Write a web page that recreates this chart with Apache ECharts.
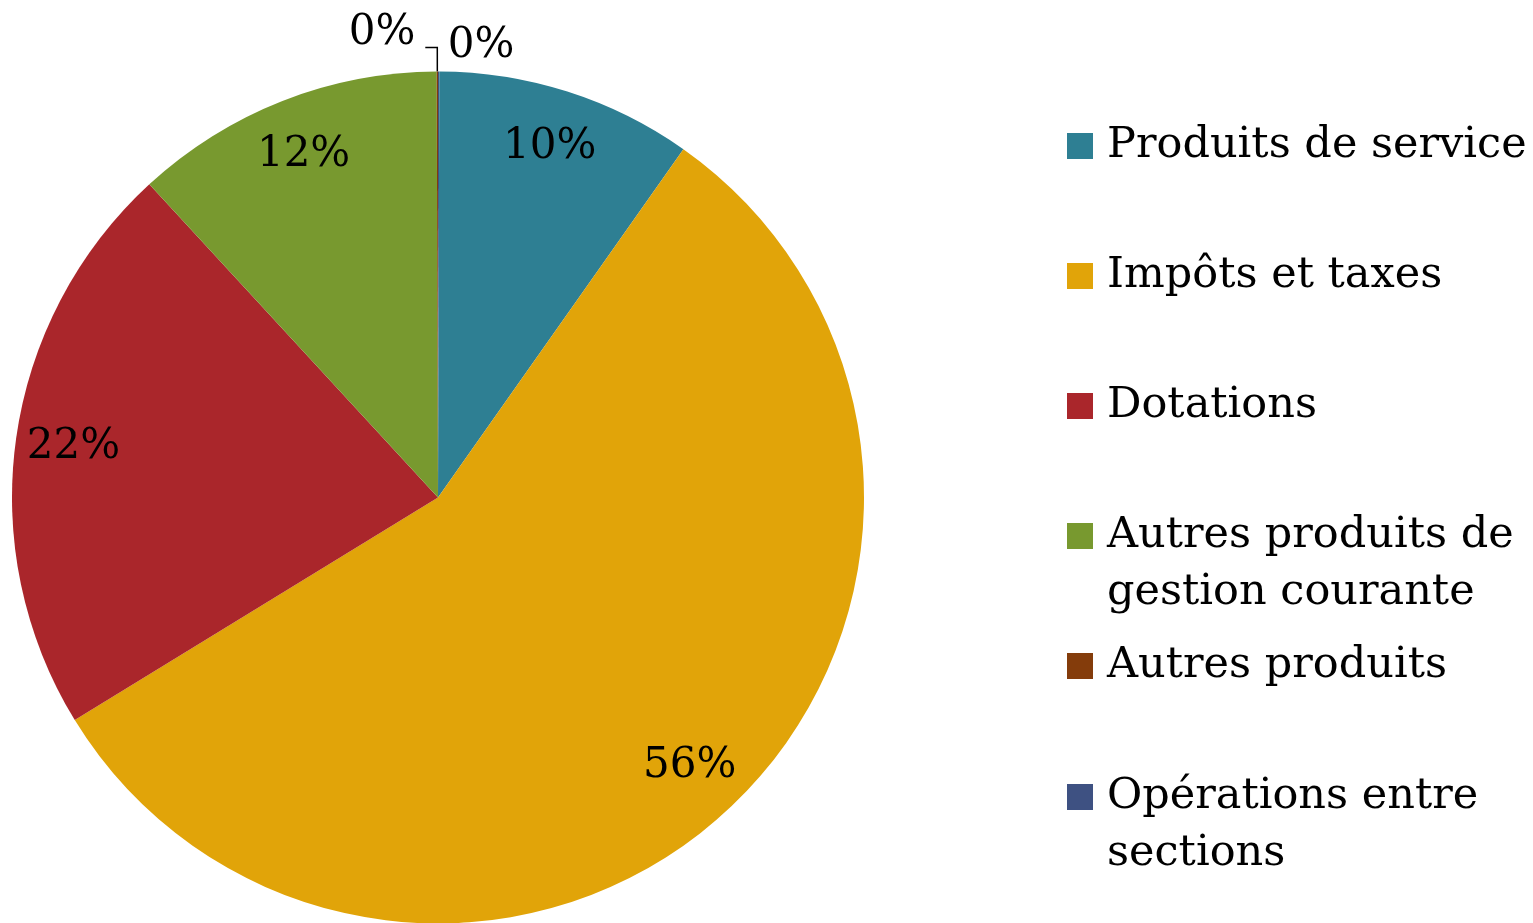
<!DOCTYPE html>
<html>
<head>
<meta charset="utf-8">
<script src="https://cdn.jsdelivr.net/npm/echarts@6/dist/echarts.min.js"></script>
<style>
html,body{margin:0;padding:0;background:#fff;}
#chart{width:1533px;height:923px;}
</style>
</head>
<body>
<div id="chart"></div>
<script>
const categories = ['Produits de service','Impôts et taxes','Dotations','Autres produits de gestion courante','Autres produits','Opérations entre sections'];
const legendLabels = ['Produits de service','Impôts et taxes','Dotations','Autres produits de\ngestion courante','Autres produits','Opérations entre\nsections'];
const values = [9.72, 56.48, 21.9, 11.8, 0.05, 0.05];
const colors = ['#2E7F93','#E1A409','#AA262B','#78992F','#843C0B','#3E5182'];
const legendCenters = [145, 275, 405, 535, 665, 796];

const FONT = "'DejaVu Serif', serif";
const drawOrder = [5, 0, 1, 2, 3, 4];
const pct = p => Math.round(p.percent) + '%';

const mainData = drawOrder.map(i => {
  const d = { name: categories[i], value: values[i], itemStyle: { color: colors[i] } };
  if (i === 5) {
    d.label = { show: true, position: 'outside', formatter: pct, distanceToLabelLine: 5 };
    d.labelLine = { show: false, length: 25, length2: 4 };
  } else if (i === 4) {
    d.label = { show: true, position: 'outside', formatter: p => pct(p) + '\n', lineHeight: 28, distanceToLabelLine: 10 };
    d.labelLine = { show: true, length: 24, length2: 12, lineStyle: { color: '#000', width: 1.5 } };
  } else {
    d.label = { show: false };
    d.labelLine = { show: false };
  }
  return d;
});

const labelData = drawOrder.map(i => ({
  name: categories[i], value: values[i],
  itemStyle: { color: 'rgba(0,0,0,0)' },
  label: { show: values[i] >= 1 }
}));

const legends = categories.map((name, i) => {
  const two = legendLabels[i].indexOf('\n') >= 0;
  return {
    data: [name],
    orient: 'vertical',
    left: 1067,
    top: legendCenters[i] - (two ? 85.5 : 28.5) + 1,
    padding: 0,
    itemWidth: 26,
    itemHeight: 26,
    selectedMode: false,
    icon: 'rect',
    formatter: () => (two ? '\n' : '') + legendLabels[i],
    textStyle: { fontFamily: FONT, fontSize: 43, color: '#000', lineHeight: 57, padding: [0, 0, 0, 9] }
  };
});

const chart = echarts.init(document.getElementById('chart'));
chart.setOption({
  animation: false,
  backgroundColor: '#fff',
  color: colors,
  legend: legends,
  series: [
    {
      type: 'pie',
      center: [438, 497.5],
      radius: [0, 426],
      startAngle: 90,
      clockwise: true,
      silent: true,
      avoidLabelOverlap: false,
      label: { fontFamily: FONT, fontSize: 42, color: '#000' },
      data: mainData
    },
    {
      type: 'pie',
      center: [438, 497.5],
      radius: [304, 426],
      startAngle: 90,
      clockwise: true,
      silent: true,
      avoidLabelOverlap: false,
      label: { show: true, position: 'inside', formatter: pct, fontFamily: FONT, fontSize: 42, color: '#000' },
      labelLine: { show: false },
      data: labelData
    }
  ]
});
</script>
</body>
</html>
